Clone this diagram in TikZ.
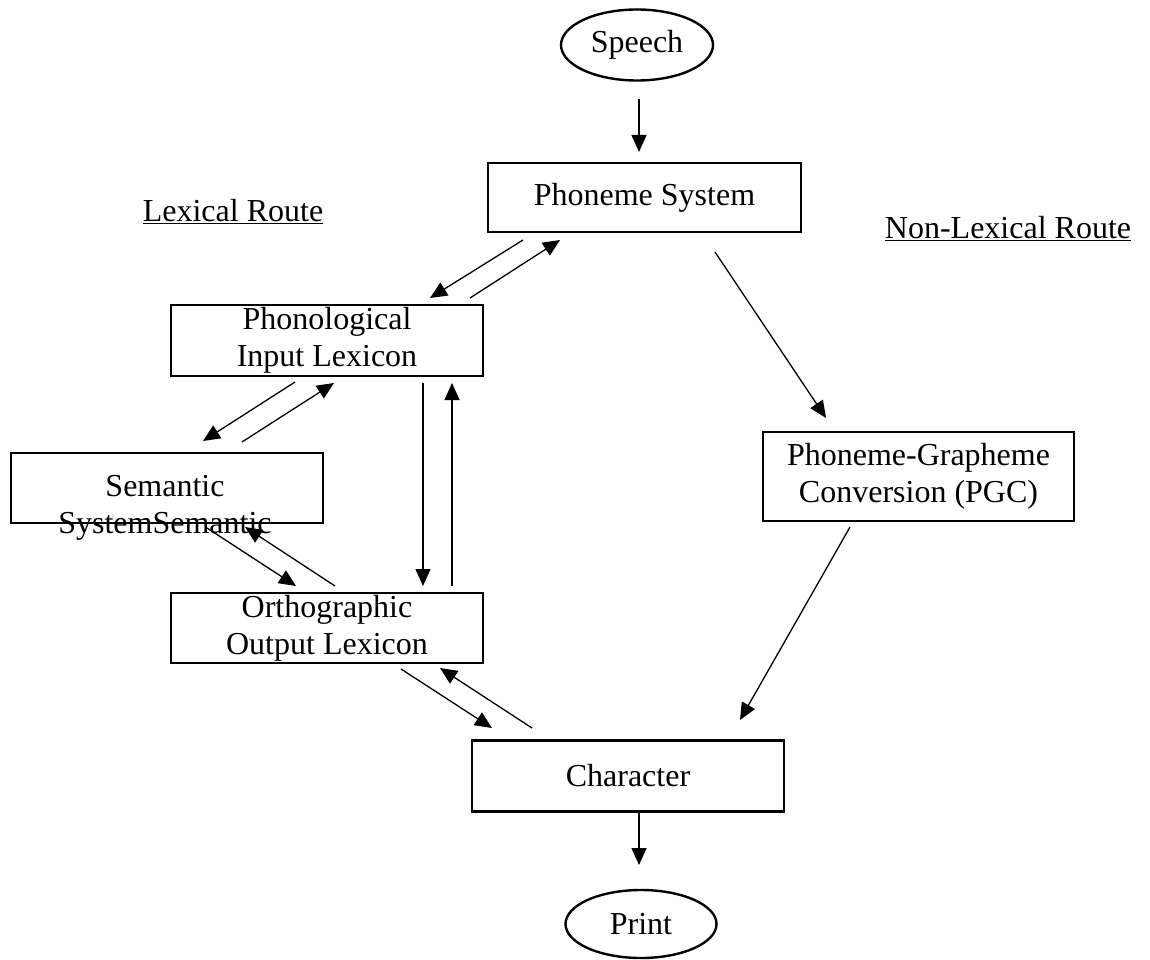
\documentclass[tikz,border=0pt]{standalone}
\usepackage{fontspec}
\setmainfont{Liberation Serif}
\usetikzlibrary{arrows.meta,shapes.geometric}
\tikzset{
  box/.style={draw, line width=2.8pt, rectangle, inner sep=0pt, align=center, font=\fontsize{32}{37}\selectfont},
  oval/.style={draw, line width=2.4pt, ellipse, inner sep=0pt, font=\fontsize{32}{37}\selectfont},
  lbl/.style={inner sep=0pt, font=\fontsize{32}{37}\selectfont},
  arr/.style={line width=1.3pt, -{Triangle[length=17pt,width=15pt]}},
}
\begin{document}
\begin{tikzpicture}[x=1pt,y=-1pt]
\useasboundingbox (0,0) rectangle (1150,960);
\node[oval, minimum width=152, minimum height=71] (speech) at (637,45) {Speech};
\node[box, minimum width=313, minimum height=69] (ps) at (644.5,197.5) {Phoneme System};
\node[box, minimum width=312, minimum height=71] (pil) at (327,340.5) {Phonological\\Input Lexicon};
\node[box, minimum width=312, minimum height=70] (sem) at (167,488) {};
\node[lbl, align=center] (semtxt) at (165,508) {Semantic\\SystemSemantic};
\node[box, minimum width=312, minimum height=70] (ool) at (327,628) {Orthographic\\Output Lexicon};
\node[box, minimum width=311, minimum height=89] (pgc) at (918.5,476.5) {Phoneme-Grapheme\\Conversion (PGC)};
\node[box, minimum width=312, minimum height=71] (char) at (628,776) {Character};
\node[oval, minimum width=151, minimum height=68] (print) at (641,924) {Print};
\node[lbl] (lex) at (233,212) {\underline{Lexical Route}};
\node[lbl] (nonlex) at (1008,229) {\underline{Non-Lexical Route}};

\draw[arr] ([shift={(2,54)}]speech.center) -- ([shift={(-5.5,-45.5)}]ps.center);
\draw[arr] ([shift={(-121.5,42.5)}]ps.center) -- ([shift={(103,-42.5)}]pil.center);
\draw[arr] ([shift={(143,-42.5)}]pil.center) -- ([shift={(-84.5,42.5)}]ps.center);
\draw[arr] ([shift={(70.5,54.5)}]ps.center) -- ([shift={(-92.5,-58.5)}]pgc.center);
\draw[arr] ([shift={(-68.5,50.5)}]pgc.center) -- ([shift={(112,-56)}]char.center);
\draw[arr] ([shift={(-32,41.5)}]pil.center) -- ([shift={(36,-47)}]sem.center);
\draw[arr] ([shift={(75,-46)}]sem.center) -- ([shift={(7,42.5)}]pil.center);
\draw[arr] ([shift={(40,40)}]sem.center) -- ([shift={(-31,-42)}]ool.center);
\draw[arr] ([shift={(8,-42)}]ool.center) -- ([shift={(78,39)}]sem.center);
\draw[arr] ([shift={(96,42.5)}]pil.center) -- ([shift={(96,-42)}]ool.center);
\draw[arr] ([shift={(125,-42)}]ool.center) -- ([shift={(125,42.5)}]pil.center);
\draw[arr] ([shift={(74,41)}]ool.center) -- ([shift={(-136,-48)}]char.center);
\draw[arr] ([shift={(-96,-48)}]char.center) -- ([shift={(113,40)}]ool.center);
\draw[arr] ([shift={(11,37)}]char.center) -- ([shift={(-2,-59)}]print.center);
\end{tikzpicture}
\end{document}
